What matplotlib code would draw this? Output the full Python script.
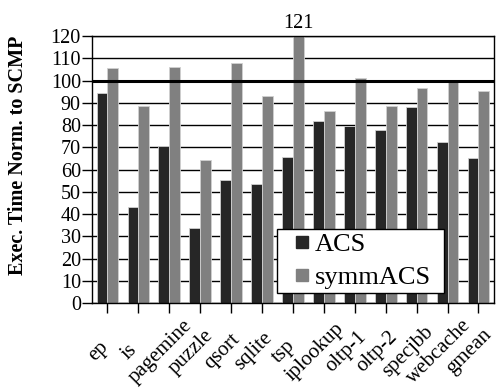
import numpy as np
import matplotlib.pyplot as plt
from matplotlib.lines import Line2D
from matplotlib.transforms import ScaledTranslation

plt.rcParams['font.family'] = ['Liberation Serif', 'DejaVu Serif']

benchmarks = ['ep', 'is', 'pagemine', 'puzzle', 'qsort', 'sqlite', 'tsp',
              'iplookup', 'oltp-1', 'oltp-2', 'specjbb', 'webcache', 'gmean']
acs = [94.6, 43.0, 70.7, 33.6, 55.1, 53.4, 65.8, 81.7, 79.7, 78.0, 88.3, 72.6, 65.1]
symm_acs = [105.7, 88.4, 106.1, 64.3, 107.9, 93.0, 121, 86.3, 101.0, 88.7, 96.5, 99.2, 95.5]

dark = '#262626'
grey = '#808080'

x = np.arange(len(benchmarks))
w = 0.35

fig = plt.figure(figsize=(5.04, 3.88), dpi=100)
ax = fig.add_axes([0.1825, 0.219, 0.7975, 0.688])

ax.set_axisbelow(True)
ax.yaxis.grid(True, color='black', linewidth=1.0)
ax.bar(x - w / 2, acs, w, color=dark, edgecolor='#d0d0d0', linewidth=0.6, zorder=2)
ax.bar(x + w / 2, symm_acs, w, color=grey, edgecolor='#d0d0d0', linewidth=0.6, zorder=2)
ax.axhline(100, color='black', linewidth=2.2, zorder=3)

# value that runs off the top
for i, v in enumerate(symm_acs):
    if v > 120:
        ax.text(x[i] + w / 2, 121.5, f'{v:g}', ha='center', va='bottom', fontsize=14.5)

ax.set_ylim(0, 120)
ax.set_xlim(-0.5, len(benchmarks) - 0.5)
ax.set_yticks(np.arange(0, 121, 10))
ax.set_xticks(x)
ax.set_xticklabels(benchmarks, rotation=45, ha='center', va='center',
                   rotation_mode='anchor', fontsize=15)
ax.tick_params(axis='y', labelsize=14.5, length=7, width=1, pad=1)
ax.tick_params(axis='x', length=7, width=1, pad=28)
shift = ScaledTranslation(-0.09, 0, fig.dpi_scale_trans)
for lab in ax.get_xticklabels():
    lab.set_transform(lab.get_transform() + shift)

ax.set_ylabel('Exec. Time Norm. to SCMP', fontweight='bold', fontsize=14.5)
ax.yaxis.set_label_coords(-0.16, 0.555)

for s in ax.spines.values():
    s.set_linewidth(1.0)

handles = [Line2D([], [], ls='none', marker='s', markersize=8.5, color=dark, label='ACS'),
           Line2D([], [], ls='none', marker='s', markersize=8.5, color=grey, label='symmACS')]
leg = ax.legend(handles=handles, loc='lower left', bbox_to_anchor=(0.46, 0.037, 0.415, 0.24),
                mode='expand', fontsize=19, frameon=True, fancybox=False, edgecolor='black',
                framealpha=1, handlelength=1.6, handletextpad=-0.3, borderpad=0.15,
                labelspacing=0.35, borderaxespad=0)
leg.get_frame().set_linewidth(1.0)

fig.savefig('out.png', dpi=100)
